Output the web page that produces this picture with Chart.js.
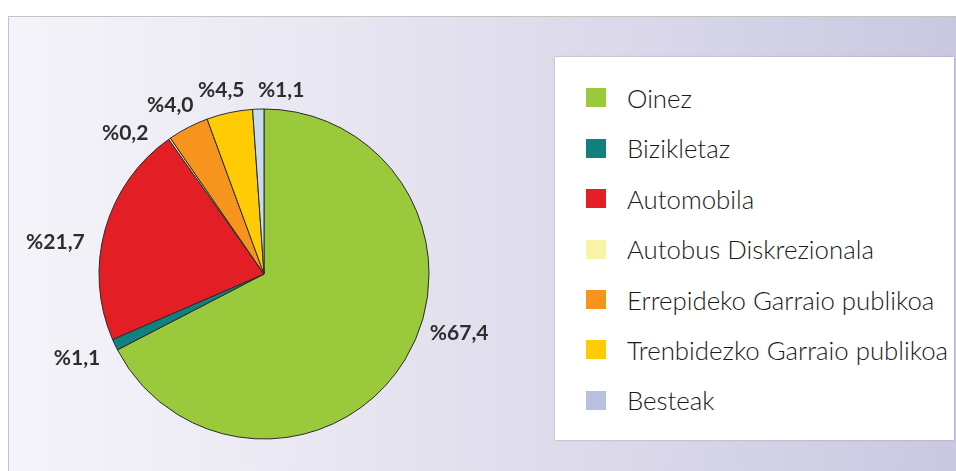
<!DOCTYPE html>
<html>
<head>
<meta charset="utf-8">
<script src="https://cdn.jsdelivr.net/npm/chart.js@4.4.1/dist/chart.umd.min.js"></script>
<style>
  html, body { margin: 0; padding: 0; width: 956px; height: 471px; overflow: hidden; background: #fff; }
  #panel {
    position: absolute; left: 8px; top: 16px; width: 948px; height: 455px; box-sizing: border-box;
    border-top: 1px solid #c4c4c4; border-left: 1px solid #c4c4c4;
    background: linear-gradient(90deg, #f5f4fa 0%, #e8e6f1 35%, #d8d6e8 70%, #c9c8e0 100%);
  }
  #legendBox {
    position: absolute; left: 555px; top: 57px; width: 399px; height: 383px;
    background: #fff; box-shadow: 0 0 2px rgba(0, 0, 0, 0.25);
  }
  #legendBox ul { list-style: none; margin: 0; padding: 15.8px 0 0 0; }
  #legendBox li {
    height: 50.4px; display: flex; align-items: center;
    font: 300 25.8px "Lato", sans-serif; color: #1a1a1a; white-space: nowrap;
  }
  #legendBox li span.box { display: inline-block; width: 20px; height: 19px; margin: 0 21px 0 31px; }
  canvas { position: absolute; left: 0; top: 0; }
</style>
</head>
<body>
<div id="panel"></div>
<div id="legendBox"><ul id="legendList"></ul></div>
<canvas id="chart" width="956" height="471"></canvas>
<script>
const categories = ['Oinez', 'Bizikletaz', 'Automobila', 'Autobus Diskrezionala',
  'Errepideko Garraio publikoa', 'Trenbidezko Garraio publikoa', 'Besteak'];
const shares = [67.4, 1.1, 21.7, 0.2, 4.0, 4.5, 1.1];
const sliceColors = ['#9bc93c', '#10817f', '#e31e25', '#f7f09e', '#f7941d', '#ffcb05', '#c9dcef'];
const legendColors = ['#9bc93c', '#10817f', '#e31e25', '#f8f3a6', '#f7941d', '#ffcb05', '#b9c0e0'];

// where each % label sits: degrees turned from the slice middle, px beyond the rim
const labelTurn = [-14.4, 1.2, -7, -9.6, -1.7, -1, 7.3];
const labelGap = [39, 40, 46, 33, 28, 24, 20];

const pctText = v => '%' + v.toFixed(1).replace('.', ',');

const sliceLabels = {
  id: 'sliceLabels',
  afterDatasetsDraw(chart, args, opts) {
    const ctx = chart.ctx;
    const meta = chart.getDatasetMeta(0);
    ctx.save();
    ctx.font = opts.font;
    ctx.fillStyle = opts.color;
    ctx.textAlign = 'center';
    ctx.textBaseline = 'middle';
    meta.data.forEach((arc, i) => {
      const p = arc.getProps(['x', 'y', 'startAngle', 'endAngle', 'outerRadius'], true);
      const a = (p.startAngle + p.endAngle) / 2 + labelTurn[i] * Math.PI / 180;
      const d = p.outerRadius + labelGap[i];
      ctx.fillText(pctText(shares[i]), p.x + Math.cos(a) * d, p.y + Math.sin(a) * d);
    });
    ctx.restore();
  }
};

const chart = new Chart(document.getElementById('chart'), {
  type: 'pie',
  data: {
    labels: categories,
    datasets: [{
      data: shares,
      backgroundColor: sliceColors,
      borderColor: '#2a2a2a',
      borderWidth: 1
    }]
  },
  options: {
    responsive: false,
    animation: false,
    layout: { padding: { left: 98.5, right: 526.5, top: 108.5, bottom: 31.5 } },
    plugins: {
      legend: { display: false },
      tooltip: { enabled: false },
      sliceLabels: { font: 'bold 21px "Lato", sans-serif', color: '#2d2d2d' }
    }
  },
  plugins: [sliceLabels]
});

// html legend from the chart's own data
const list = document.getElementById('legendList');
chart.data.labels.forEach((lab, i) => {
  const li = document.createElement('li');
  const sw = document.createElement('span');
  sw.className = 'box';
  sw.style.background = legendColors[i];
  li.appendChild(sw);
  li.appendChild(document.createTextNode(lab));
  list.appendChild(li);
});
</script>
</body>
</html>
